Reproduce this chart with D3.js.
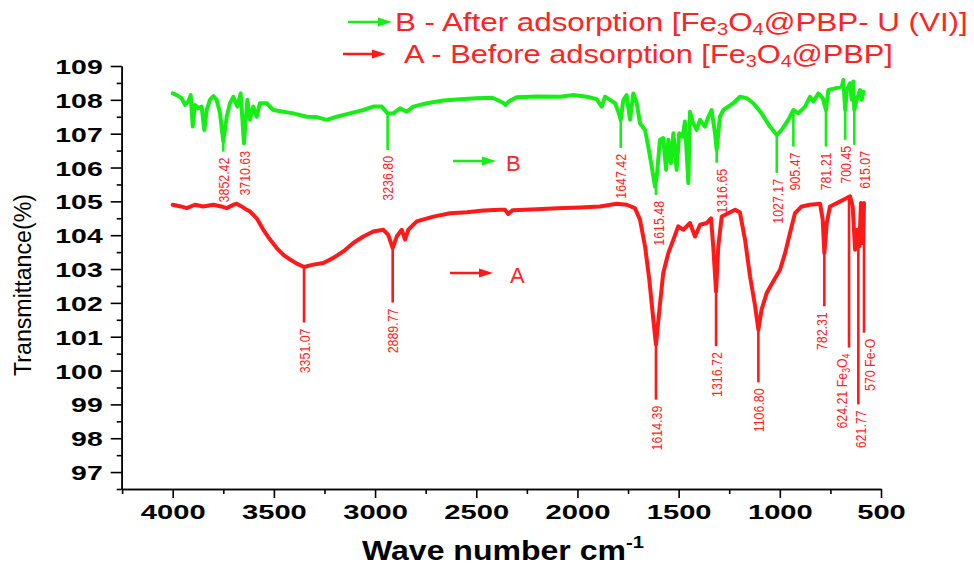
<!DOCTYPE html>
<html><head><meta charset="utf-8">
<script src="https://cdn.jsdelivr.net/npm/d3@7/dist/d3.min.js"></script>
<style>body{margin:0;background:#fff}svg{display:block}</style>
</head><body>
<script>
// ---------- data ----------
const xTicks = [4000, 3500, 3000, 2500, 2000, 1500, 1000, 500];
const xMinor = [4250, 3750, 3250, 2750, 2250, 1750, 1250, 750];
const yTicks = [97, 98, 99, 100, 101, 102, 103, 104, 105, 106, 107, 108, 109];
const yMinor = [96.5, 97.5, 98.5, 99.5, 100.5, 101.5, 102.5, 103.5, 104.5, 105.5, 106.5, 107.5, 108.5];

// B - after adsorption [wavenumber, transmittance]
const seriesB = [[4000,108.19],[3980,108.14],[3956,108.05],[3939,107.85],[3923,107.95],[3911,108.14],[3901,107.21],[3890,107.85],[3873,107.75],[3857,107.80],[3844,107.11],[3832,107.70],[3816,108.0],[3799,108.11],[3783,108.0],[3766,107.6],[3750,106.77],[3733,107.5],[3717,107.9],[3700,108.09],[3681,107.8],[3664,108.19],[3648,106.72],[3631,108.0],[3618,107.41],[3602,107.8],[3585,107.5],[3569,107.9],[3536,107.9],[3503,107.7],[3453,107.65],[3404,107.6],[3338,107.5],[3288,107.49],[3239,107.41],[3190,107.5],[3124,107.6],[3058,107.7],[3009,107.8],[2967,107.8],[2938,107.6],[2910,107.6],[2877,107.75],[2844,107.65],[2811,107.8],[2745,107.9],[2663,107.98],[2580,108.02],[2500,108.05],[2420,108.06],[2370,107.92],[2355,107.85],[2340,107.95],[2300,108.08],[2200,108.1],[2086,108.09],[2020,108.14],[1954,108.09],[1905,108.02],[1880,107.8],[1864,108.09],[1839,108.0],[1814,107.9],[1798,107.65],[1786,107.41],[1773,108.0],[1757,108.14],[1740,107.41],[1724,108.19],[1707,107.9],[1691,107.31],[1666,107.11],[1650,106.62],[1633,106.03],[1617,105.44],[1608,105.73],[1592,106.82],[1576,106.87],[1562,105.93],[1551,106.82],[1538,106.13],[1526,107.01],[1510,105.93],[1497,107.01],[1480,106.91],[1469,107.36],[1452,105.54],[1444,107.65],[1428,107.31],[1411,107.11],[1394,107.41],[1370,107.21],[1353,107.5],[1337,107.7],[1320,107.01],[1312,106.52],[1296,107.5],[1279,107.7],[1230,107.9],[1197,108.09],[1164,108.05],[1131,107.9],[1090,107.6],[1049,107.21],[1015,106.96],[991,107.11],[958,107.41],[933,107.7],[909,107.6],[875,107.8],[851,108.09],[834,107.95],[810,108.19],[788,108.05],[772,107.7],[760,108.29],[727,108.34],[694,108.39],[686,108.59],[677,107.7],[669,108.29],[653,108.49],[645,108.0],[637,108.54],[632,107.7],[620,108.0],[603,108.29],[595,108.0],[587,108.24]];

// A - before adsorption [wavenumber, transmittance]
const seriesA = [[4000,104.9],[3960,104.85],[3931,104.8],[3890,104.9],[3849,104.85],[3799,104.9],[3760,104.85],[3733,104.8],[3700,104.9],[3684,104.93],[3660,104.85],[3634,104.75],[3618,104.7],[3585,104.5],[3552,104.16],[3519,103.87],[3486,103.62],[3453,103.42],[3420,103.28],[3387,103.16],[3351,103.06],[3305,103.13],[3256,103.18],[3206,103.33],[3157,103.52],[3108,103.77],[3058,103.96],[3009,104.11],[2959,104.16],[2935,104.01],[2913,103.62],[2893,103.96],[2868,104.16],[2852,103.87],[2836,104.16],[2794,104.41],[2712,104.55],[2630,104.65],[2547,104.68],[2465,104.73],[2383,104.75],[2358,104.75],[2342,104.63],[2320,104.74],[2200,104.77],[2100,104.8],[1987,104.82],[1889,104.85],[1806,104.93],[1757,104.9],[1716,104.8],[1691,104.46],[1666,103.67],[1645,102.69],[1625,101.5],[1612,100.77],[1595,101.8],[1576,102.88],[1551,103.47],[1526,103.87],[1502,104.26],[1477,104.16],[1444,104.36],[1419,103.96],[1394,104.31],[1361,104.36],[1340,104.5],[1329,103.67],[1315,102.34],[1304,103.67],[1287,104.55],[1255,104.65],[1221,104.75],[1197,104.67],[1172,103.87],[1147,102.78],[1122,101.9],[1106,101.21],[1090,101.8],[1065,102.29],[1032,102.64],[999,102.98],[974,103.47],[950,104.06],[925,104.65],[892,104.85],[851,104.9],[801,104.93],[788,104.46],[780,103.47],[768,104.36],[752,104.85],[711,104.97],[669,105.1],[653,105.15],[640,104.85],[628,103.57],[617,104.16],[607,103.67],[599,104.95],[590,103.77],[584,104.95]];

// peak annotations: label, wavenumber of leader line, transmittance where leader ends, wavenumber of label centre
const annLabelsB = ["3852.42","3710.63","3236.80","1647.42","1615.48","1316.65","1027.17","905.47","781.21","700.45","615.07"];
const annAtB     = [3750, 3648, 2938, 1786, 1612, 1312, 1015, 933, 772, 677, 632];
const annEndB    = [106.47, 106.67, 106.52, 106.58, 105.19, 106.14, 105.84, 106.62, 106.62, 106.82, 106.67];
const annTextAtB = [3750, 3648, 2938, 1786, 1600, 1290, 1010, 930, 776, 677, 584];

const annLabelsA = ["3351.07","2889.77","1614.39","1316.72","1106.80","782.31","624.21 Fe|3|O|4|","621.77","570 Fe-O"];
const annAtA     = [3351, 2913, 1612, 1315, 1106, 780, 658, 612, 584];
const annEndA    = [101.42, 102.01, 99.14, 100.72, 99.65, 101.9, 100.68, 99.0, 101.12];
const annTextAtA = [3351, 2913, 1612, 1312, 1106, 795, 697, 604, 555];

const legendLabels = ["B - After adsorption [Fe|3|O|4|@PBP- U (VI)]", "A - Before adsorption [Fe|3|O|4|@PBP]"];
const xTitle = "Wave number cm";
const yTitle = "Transmittance(%)";

// ---------- drawing ----------
const W = 974, H = 567;
const GREEN = "#17ee17", RED = "#ff1a1a", TXT = "#ff2424";
const svg = d3.select("body").append("svg").attr("width", W).attr("height", H);
const x = d3.scaleLinear().domain([4252, 500]).range([121.7, 881]);
const y = d3.scaleLinear().domain([96.5, 109]).range([489, 66]);
const FONT = "'Liberation Sans', Arial, sans-serif";

function addRich(sel, str, subScale, shift) {
  // "|x|" segments become subscripts
  let down = false;
  str.split("|").forEach((s, i) => {
    if (!s) return;
    const t = sel.append("tspan").text(s);
    if (i % 2 === 1) { t.attr("font-size", subScale).attr("dy", shift); down = true; }
    else if (down) { t.attr("dy", -shift); down = false; }
  });
}

// axes
const xAxis = svg.append("g").attr("transform", `translate(0,489)`)
  .call(d3.axisBottom(x).tickValues(xTicks).tickSize(9).tickSizeOuter(0).tickFormat(d3.format("d")));
svg.append("g").attr("transform", `translate(0,489)`)
  .call(d3.axisBottom(x).tickValues(xMinor).tickSize(5).tickSizeOuter(0).tickFormat(""));
const yAxis = svg.append("g").attr("transform", `translate(121.7,0)`)
  .call(d3.axisLeft(y).tickValues(yTicks).tickSize(11).tickSizeOuter(0));
svg.append("g").attr("transform", `translate(121.7,0)`)
  .call(d3.axisLeft(y).tickValues(yMinor).tickSize(5).tickSizeOuter(0).tickFormat(""));
svg.selectAll(".domain, .tick line").attr("stroke", "#000").attr("stroke-width", 1.6);
xAxis.selectAll(".tick text").attr("font-family", FONT).attr("font-weight", "bold").attr("font-size", 21)
  .attr("fill", "#000").attr("y", 15).attr("dy", "0.71em")
  .attr("textLength", d => String(d).length * 16.2).attr("lengthAdjust", "spacingAndGlyphs");
yAxis.selectAll(".tick text").attr("font-family", FONT).attr("font-weight", "bold").attr("font-size", 21)
  .attr("fill", "#000").attr("x", -19).attr("dy", "0.36em")
  .attr("textLength", d => String(d).length * 15.8).attr("lengthAdjust", "spacingAndGlyphs");

// text stretched horizontally to a target width
function fitText(x0, base, targetW, build) {
  const g = svg.append("g");
  const t = g.append("text");
  build(t);
  const w = t.node().getBBox().width;
  g.attr("transform", `translate(${x0},${base}) scale(${targetW / w},1)`);
  return t;
}

// axis titles
fitText(362, 560, 282, t => {
  t.attr("font-family", FONT).attr("font-weight", "bold").attr("font-size", 27).attr("fill", "#000");
  t.append("tspan").text(xTitle);
  t.append("tspan").text("-1").attr("font-size", 17).attr("dy", -12);
});
svg.append("text").attr("font-family", FONT).attr("font-size", 23).attr("fill", "#000")
  .attr("transform", "translate(31,285) rotate(-90)").attr("text-anchor", "middle")
  .attr("textLength", 182).attr("lengthAdjust", "spacingAndGlyphs").text(yTitle);

// curves
const line = d3.line().x(d => x(d[0])).y(d => y(d[1]));
svg.append("path").datum(seriesB).attr("d", line).attr("fill", "none").attr("stroke", GREEN)
  .attr("stroke-width", 4).attr("stroke-linejoin", "round").attr("stroke-linecap", "round");
svg.append("path").datum(seriesA).attr("d", line).attr("fill", "none").attr("stroke", RED)
  .attr("stroke-width", 4).attr("stroke-linejoin", "round").attr("stroke-linecap", "round");

// annotations (condensed red labels, rotated)
function annotate(labels, at, end, textAt, series, color) {
  labels.forEach((lab, i) => {
    const near = d3.least(series, d => Math.abs(d[0] - at[i]));
    svg.append("line").attr("x1", x(at[i])).attr("x2", x(at[i]))
      .attr("y1", y(near[1])).attr("y2", y(end[i]))
      .attr("stroke", color).attr("stroke-width", 2.6);
    const t = svg.append("text").attr("font-family", FONT).attr("font-size", 15.5).attr("fill", TXT)
      .attr("text-anchor", "end").attr("dy", "0.36em")
      .attr("transform", `translate(${x(textAt[i])},${y(end[i]) + 6}) rotate(-90) scale(0.8,1)`);
    addRich(t, lab, "70%", 3);
  });
}
annotate(annLabelsB, annAtB, annEndB, annTextAtB, seriesB, GREEN);
annotate(annLabelsA, annAtA, annEndA, annTextAtA, seriesA, RED);

// arrows
function arrow(x1, x2, yy, color) {
  svg.append("line").attr("x1", x1).attr("x2", x2 - 10).attr("y1", yy).attr("y2", yy)
    .attr("stroke", color).attr("stroke-width", 2.6);
  svg.append("path").attr("d", `M${x2 - 14},${yy - 4.5}L${x2},${yy}L${x2 - 14},${yy + 4.5}Z`).attr("fill", color);
}
arrow(348, 392, 22, GREEN);
arrow(343, 386, 54, RED);
arrow(453, 496, 161, GREEN);
arrow(450, 493, 273, RED);
svg.append("text").attr("x", 506).attr("y", 171).attr("font-family", FONT).attr("font-size", 22).attr("fill", TXT).text("B");
svg.append("text").attr("x", 510).attr("y", 283).attr("font-family", FONT).attr("font-size", 22).attr("fill", TXT).text("A");

// legend text, stretched to the reference width
function legendText(str, x0, base, targetW) {
  fitText(x0, base, targetW, t => {
    t.attr("font-family", FONT).attr("font-size", 25).attr("fill", TXT);
    addRich(t, str, 16, 4);
  });
}
legendText(legendLabels[0], 395, 31, 573);
legendText(legendLabels[1], 404, 63, 489);
</script>
</body></html>
